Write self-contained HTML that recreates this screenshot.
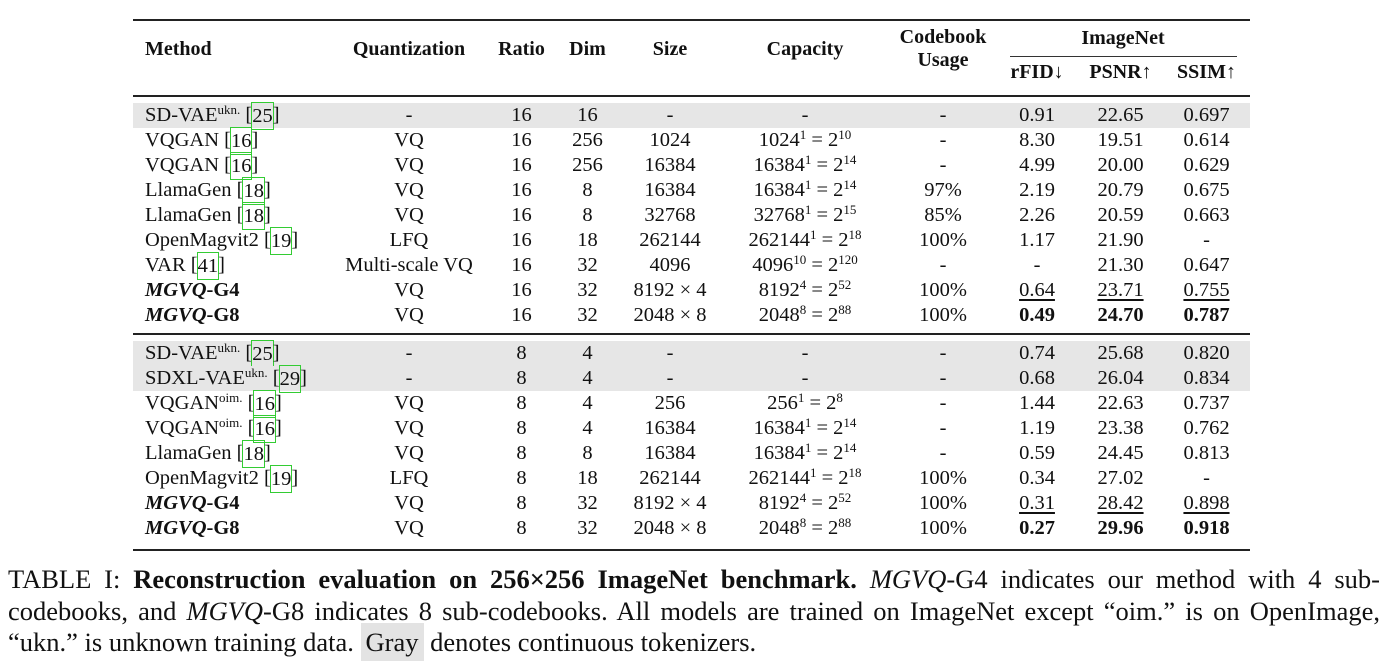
<!DOCTYPE html>
<html><head><meta charset="utf-8"><style>
body{margin:0;width:1393px;height:671px;background:#fff;position:relative;overflow:hidden;font-family:"Liberation Serif",serif;color:#111}
.rule{position:absolute;background:#222;left:133px;width:1117px}
.row{position:absolute;left:133px;width:1117px;height:25px;line-height:25px;font-size:20.5px}
.g{background:#e6e6e6}
.c{position:absolute;top:0;text-align:center;white-space:nowrap}
.m{left:12px;text-align:left}
sup{font-size:13px;line-height:0;vertical-align:7px}
.cite{outline:1.5px solid #3c3;outline-offset:0px;display:inline-block;line-height:26px;height:26px;vertical-align:top}
b{font-weight:bold}
u{text-decoration:underline;text-underline-offset:3px}
.h{position:absolute;font-weight:bold;font-size:20px;white-space:nowrap;text-align:center}
.cl{position:absolute;left:8px;width:1372px;font-size:26.5px;line-height:31px;text-align:justify;text-align-last:justify;white-space:nowrap}
</style></head><body>
<div class="rule" style="top:19px;height:2px"></div>
<div class="h" style="left:145px;top:38px">Method</div>
<div class="h" style="left:330px;width:158px;top:38px">Quantization</div>
<div class="h" style="left:488px;width:67px;top:38px">Ratio</div>
<div class="h" style="left:555px;width:65px;top:38px">Dim</div>
<div class="h" style="left:620px;width:100px;top:38px">Size</div>
<div class="h" style="left:720px;width:170px;top:38px">Capacity</div>
<div class="h" style="left:890px;width:106px;top:26px;line-height:23px">Codebook<br>Usage</div>
<div class="h" style="left:996px;width:254px;top:27px">ImageNet</div>
<div style="position:absolute;left:1010px;width:227px;top:56px;height:1px;background:#333"></div>
<div class="h" style="left:996px;width:82px;top:61px">rFID↓</div>
<div class="h" style="left:1078px;width:85px;top:61px">PSNR↑</div>
<div class="h" style="left:1163px;width:87px;top:61px">SSIM↑</div>
<div class="rule" style="top:95px;height:2px"></div>
<div class="rule" style="top:333px;height:1.5px"></div>
<div class="rule" style="top:549px;height:2px"></div>
<div id="t"></div>
<div class="cl" style="top:564px">TABLE I: <b>Reconstruction evaluation on 256×256 ImageNet benchmark.</b> <i>MGVQ</i>-G4 indicates our method with 4 sub-</div>
<div class="cl" style="top:596px">codebooks, and <i>MGVQ</i>-G8 indicates 8 sub-codebooks. All models are trained on ImageNet except “oim.” is on OpenImage,</div>
<div class="cl" style="top:627px;text-align:left;text-align-last:left;width:auto">“ukn.” is unknown training data. <span style="background:#e3e3e3;padding:4px 5px">Gray</span> denotes continuous tokenizers.</div>
<script>
const cols=[[330,158],[488,67],[555,65],[620,100],[720,170],[890,106],[996,82],[1078,85],[1163,87]];
const C=(n)=>`<span class="cite">${n}</span>`;
const rows=[
[103,1,`SD-VAE<sup>ukn.</sup> [${C(25)}]`,'-','16','16','-','-','-','0.91','22.65','0.697'],
[128,0,`VQGAN [${C(16)}]`,'VQ','16','256','1024','1024<sup>1</sup> = 2<sup>10</sup>','-','8.30','19.51','0.614'],
[153,0,`VQGAN [${C(16)}]`,'VQ','16','256','16384','16384<sup>1</sup> = 2<sup>14</sup>','-','4.99','20.00','0.629'],
[178,0,`LlamaGen [${C(18)}]`,'VQ','16','8','16384','16384<sup>1</sup> = 2<sup>14</sup>','97%','2.19','20.79','0.675'],
[203,0,`LlamaGen [${C(18)}]`,'VQ','16','8','32768','32768<sup>1</sup> = 2<sup>15</sup>','85%','2.26','20.59','0.663'],
[228,0,`OpenMagvit2 [${C(19)}]`,'LFQ','16','18','262144','262144<sup>1</sup> = 2<sup>18</sup>','100%','1.17','21.90','-'],
[253,0,`VAR [${C(41)}]`,'Multi-scale VQ','16','32','4096','4096<sup>10</sup> = 2<sup>120</sup>','-','-','21.30','0.647'],
[278,0,`<b><i>MGVQ</i>-G4</b>`,'VQ','16','32','8192 × 4','8192<sup>4</sup> = 2<sup>52</sup>','100%','<u>0.64</u>','<u>23.71</u>','<u>0.755</u>'],
[303,0,`<b><i>MGVQ</i>-G8</b>`,'VQ','16','32','2048 × 8','2048<sup>8</sup> = 2<sup>88</sup>','100%','<b>0.49</b>','<b>24.70</b>','<b>0.787</b>'],
[341,1,`SD-VAE<sup>ukn.</sup> [${C(25)}]`,'-','8','4','-','-','-','0.74','25.68','0.820'],
[366,1,`SDXL-VAE<sup>ukn.</sup> [${C(29)}]`,'-','8','4','-','-','-','0.68','26.04','0.834'],
[391,0,`VQGAN<sup>oim.</sup> [${C(16)}]`,'VQ','8','4','256','256<sup>1</sup> = 2<sup>8</sup>','-','1.44','22.63','0.737'],
[416,0,`VQGAN<sup>oim.</sup> [${C(16)}]`,'VQ','8','4','16384','16384<sup>1</sup> = 2<sup>14</sup>','-','1.19','23.38','0.762'],
[441,0,`LlamaGen [${C(18)}]`,'VQ','8','8','16384','16384<sup>1</sup> = 2<sup>14</sup>','-','0.59','24.45','0.813'],
[466,0,`OpenMagvit2 [${C(19)}]`,'LFQ','8','18','262144','262144<sup>1</sup> = 2<sup>18</sup>','100%','0.34','27.02','-'],
[491,0,`<b><i>MGVQ</i>-G4</b>`,'VQ','8','32','8192 × 4','8192<sup>4</sup> = 2<sup>52</sup>','100%','<u>0.31</u>','<u>28.42</u>','<u>0.898</u>'],
[516,0,`<b><i>MGVQ</i>-G8</b>`,'VQ','8','32','2048 × 8','2048<sup>8</sup> = 2<sup>88</sup>','100%','<b>0.27</b>','<b>29.96</b>','<b>0.918</b>']];
let h='';
for(const r of rows){
 h+=`<div class="row${r[1]?' g':''}" style="top:${r[0]}px"><div class="c m">${r[2]}</div>`;
 for(let i=0;i<9;i++){h+=`<div class="c" style="left:${cols[i][0]-133}px;width:${cols[i][1]}px">${r[3+i]}</div>`;}
 h+='</div>';
}
document.getElementById('t').innerHTML=h;
</script>
</body></html>
